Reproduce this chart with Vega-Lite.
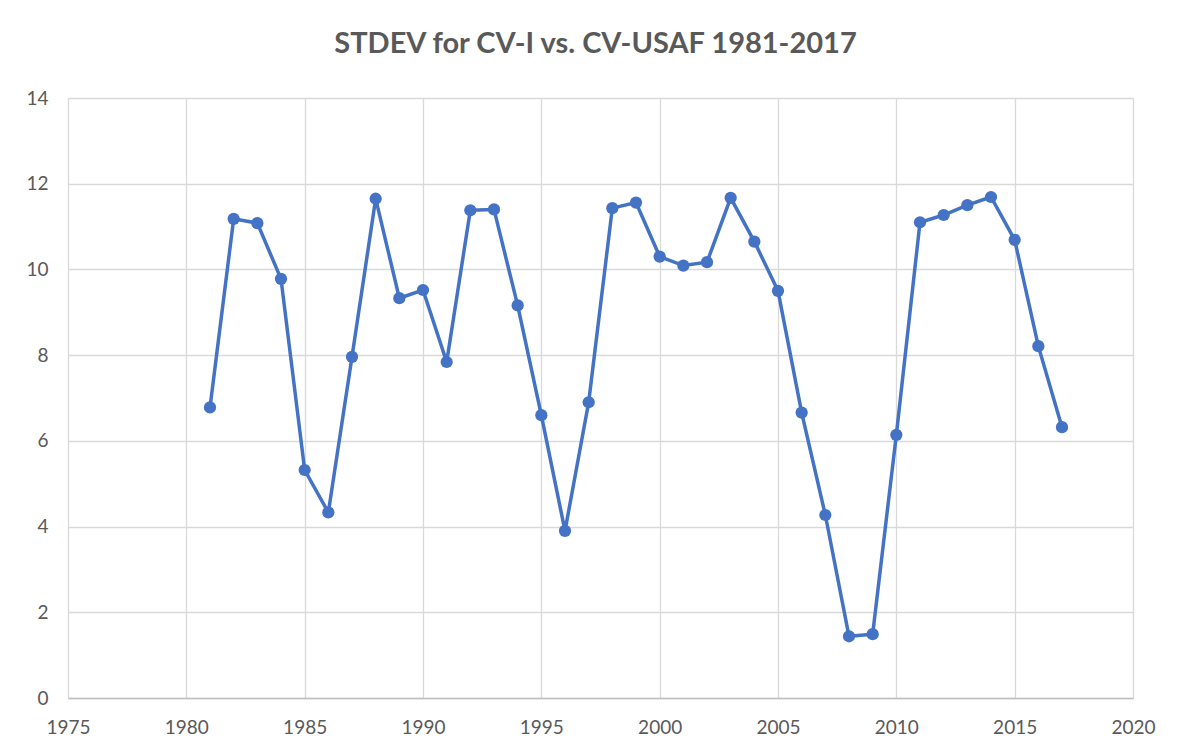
{
  "$schema": "https://vega.github.io/schema/vega-lite/v6.json",
  "autosize": "none",
  "width": 1065,
  "height": 600,
  "padding": {"left": 68, "top": 98, "right": 47, "bottom": 51},
  "background": "white",
  "title": {
    "text": "STDEV for CV-I vs. CV-USAF 1981-2017",
    "font": "Lato",
    "fontSize": 29,
    "fontWeight": "bold",
    "color": "#595959",
    "anchor": "middle",
    "baseline": "bottom",
    "offset": 1,
    "dx": -5
  },
  "data": {
    "values": [
      {"year": 1981, "stdev": 6.78},
      {"year": 1982, "stdev": 11.18},
      {"year": 1983, "stdev": 11.08},
      {"year": 1984, "stdev": 9.78},
      {"year": 1985, "stdev": 5.32},
      {"year": 1986, "stdev": 4.33},
      {"year": 1987, "stdev": 7.96},
      {"year": 1988, "stdev": 11.65},
      {"year": 1989, "stdev": 9.33},
      {"year": 1990, "stdev": 9.52},
      {"year": 1991, "stdev": 7.84},
      {"year": 1992, "stdev": 11.38},
      {"year": 1993, "stdev": 11.40},
      {"year": 1994, "stdev": 9.16},
      {"year": 1995, "stdev": 6.60},
      {"year": 1996, "stdev": 3.90},
      {"year": 1997, "stdev": 6.90},
      {"year": 1998, "stdev": 11.43},
      {"year": 1999, "stdev": 11.56},
      {"year": 2000, "stdev": 10.30},
      {"year": 2001, "stdev": 10.09},
      {"year": 2002, "stdev": 10.17},
      {"year": 2003, "stdev": 11.67},
      {"year": 2004, "stdev": 10.65},
      {"year": 2005, "stdev": 9.50},
      {"year": 2006, "stdev": 6.66},
      {"year": 2007, "stdev": 4.27},
      {"year": 2008, "stdev": 1.44},
      {"year": 2009, "stdev": 1.49},
      {"year": 2010, "stdev": 6.14},
      {"year": 2011, "stdev": 11.10},
      {"year": 2012, "stdev": 11.27},
      {"year": 2013, "stdev": 11.50},
      {"year": 2014, "stdev": 11.69},
      {"year": 2015, "stdev": 10.69},
      {"year": 2016, "stdev": 8.21},
      {"year": 2017, "stdev": 6.32}
    ]
  },
  "encoding": {
    "x": {
      "field": "year",
      "type": "quantitative",
      "scale": {"domain": [1975, 2020], "nice": false, "zero": false},
      "axis": {
        "title": null,
        "values": [1975, 1980, 1985, 1990, 1995, 2000, 2005, 2010, 2015, 2020],
        "format": "d",
        "grid": true,
        "gridColor": "#d9d9d9",
        "gridWidth": 1.3,
        "domain": true,
        "domainColor": "#bfbfbf",
        "domainWidth": 1.5,
        "ticks": false,
        "labelFont": "Lato",
        "labelFontSize": 19,
        "labelColor": "#595959",
        "labelPadding": 20,
        "labelFlush": false,
        "labelOverlap": false
      }
    },
    "y": {
      "field": "stdev",
      "type": "quantitative",
      "scale": {"domain": [0, 14], "nice": false},
      "axis": {
        "title": null,
        "values": [0, 2, 4, 6, 8, 10, 12, 14],
        "grid": true,
        "gridColor": "#d9d9d9",
        "gridWidth": 1.3,
        "domain": false,
        "ticks": false,
        "labelFont": "Lato",
        "labelFontSize": 19,
        "labelColor": "#595959",
        "labelPadding": 20,
        "labelFlush": false,
        "labelOverlap": false
      }
    }
  },
  "layer": [
    {
      "mark": {"type": "line", "color": "#4472C4", "strokeWidth": 3.5}
    },
    {
      "mark": {"type": "point", "shape": "circle", "filled": true, "opacity": 1, "color": "#4472C4", "size": 150}
    }
  ],
  "config": {
    "view": {"stroke": null}
  }
}
